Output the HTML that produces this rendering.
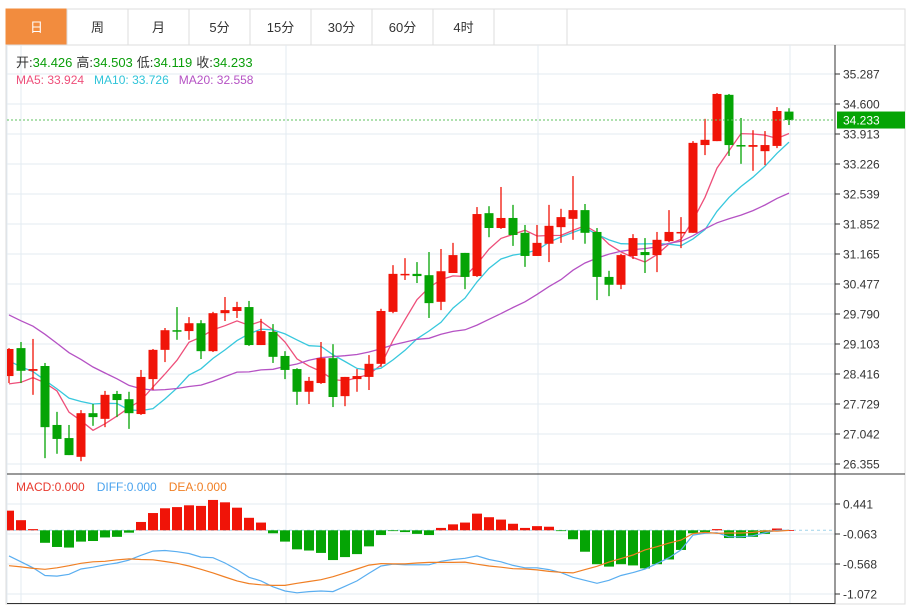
<!DOCTYPE html>
<html><head><meta charset="utf-8"><style>
body{margin:0;background:#fff;width:912px;height:605px;overflow:hidden;font-family:"Liberation Sans","Noto Sans CJK SC",sans-serif}
svg{display:block}
</style></head><body>
<svg id="chart" width="912" height="605" viewBox="0 0 912 605" xmlns="http://www.w3.org/2000/svg" font-family="Liberation Sans, Noto Sans CJK SC, sans-serif">
<defs><clipPath id="plotclip"><rect x="7" y="45" width="828" height="559"/></clipPath></defs>
<g id="tabs"></g>
<g id="grid"></g>
<g clip-path="url(#plotclip)">
<g id="ma"></g>
<g id="candles"></g>
<g id="macd"></g>
</g>
<g id="axes"></g>
<g font-size="13">
<text x="16" y="67" fill="#333">开:<tspan fill="#0a9e0a">34.426</tspan><tspan dx="4">高:</tspan><tspan fill="#0a9e0a">34.503</tspan><tspan dx="4">低:</tspan><tspan fill="#0a9e0a">34.119</tspan><tspan dx="4">收:</tspan><tspan fill="#0a9e0a">34.233</tspan></text>
<text x="16" y="84" font-size="12"><tspan fill="#ee4f7a">MA5: 33.924</tspan><tspan fill="#2fc4d9" dx="10">MA10: 33.726</tspan><tspan fill="#b552c4" dx="10">MA20: 32.558</tspan></text>
<text x="16" y="491" font-size="12"><tspan fill="#e83a2e">MACD:0.000</tspan><tspan fill="#4aa3ee" dx="12">DIFF:0.000</tspan><tspan fill="#f07f24" dx="12">DEA:0.000</tspan></text>
</g>
</svg>
<script>
const opens=[28.37,29.01,28.49,28.60,27.25,26.95,26.52,27.52,27.39,27.96,27.84,27.50,28.30,28.97,29.42,29.40,29.58,28.94,29.81,29.86,29.95,29.08,29.38,28.83,28.53,28.01,28.21,28.78,27.91,28.30,28.35,28.65,29.84,30.68,30.71,30.68,30.07,30.73,31.19,30.66,32.10,31.76,31.99,31.65,31.12,31.40,31.78,31.97,32.17,31.67,30.64,30.46,31.12,31.21,31.14,31.46,31.65,31.65,33.66,33.75,34.81,33.66,33.62,33.52,33.64,34.426];
const highs=[29.01,29.15,29.22,28.67,27.55,27.25,27.59,27.73,28.03,28.03,28.01,28.51,28.99,29.47,29.95,29.72,29.65,29.84,30.18,30.07,30.09,29.68,29.56,28.94,28.55,28.35,29.15,29.10,28.35,28.53,28.85,29.91,30.91,31.07,30.98,31.21,31.28,31.42,31.19,32.24,32.26,32.70,32.29,31.83,31.83,32.29,32.20,32.95,32.31,31.76,30.78,31.17,31.62,31.53,31.67,32.17,32.01,33.75,34.26,34.85,34.83,34.28,34.00,33.98,34.53,34.503];
const lows=[28.21,28.21,27.94,26.49,26.59,26.56,26.42,27.23,27.20,27.43,27.16,27.48,28.05,28.69,29.20,29.20,28.76,28.92,29.63,29.70,29.06,29.08,28.67,28.30,27.71,27.73,28.19,27.66,27.68,28.01,28.05,28.58,29.81,30.57,30.50,29.70,29.88,30.73,30.36,30.64,31.55,31.74,31.35,30.87,31.12,30.98,31.42,31.49,31.40,30.11,30.20,30.36,31.05,30.73,30.75,31.44,31.30,31.65,33.43,33.75,33.41,33.23,33.07,33.20,33.59,34.119];
const closes=[28.99,28.49,28.53,27.20,26.93,26.56,27.52,27.43,27.94,27.82,27.52,28.35,28.97,29.42,29.40,29.58,28.94,29.81,29.88,29.95,29.08,29.40,28.81,28.51,28.01,28.26,28.78,27.89,28.35,28.37,28.65,29.86,30.71,30.71,30.66,30.04,30.77,31.14,30.64,32.08,31.76,31.99,31.60,31.12,31.42,31.81,32.01,32.17,31.65,30.64,30.46,31.14,31.53,31.14,31.49,31.67,31.67,33.71,33.78,34.83,33.66,33.63,33.66,33.66,34.44,34.233];
const priorCloses=[31.2,31.0,30.9,31.1,30.8,30.6,30.9,30.7,30.5,30.5,29.9,29.6,29.2,28.9,28.65,28.3,28.0,27.8,27.86];
const macdHist=[0.33,0.17,0.02,-0.21,-0.28,-0.29,-0.19,-0.18,-0.12,-0.11,-0.04,0.14,0.29,0.37,0.39,0.42,0.41,0.51,0.47,0.38,0.21,0.13,-0.05,-0.19,-0.32,-0.34,-0.38,-0.50,-0.45,-0.40,-0.27,-0.08,-0.01,-0.03,-0.06,-0.08,0.04,0.10,0.13,0.28,0.22,0.18,0.11,0.04,0.07,0.06,-0.01,-0.15,-0.36,-0.57,-0.61,-0.57,-0.59,-0.64,-0.57,-0.49,-0.33,-0.05,-0.03,0.02,-0.13,-0.13,-0.11,-0.06,0.03,0.005];
const diffVals=[-0.43,-0.53,-0.63,-0.76,-0.77,-0.74,-0.65,-0.62,-0.58,-0.55,-0.50,-0.42,-0.35,-0.34,-0.36,-0.39,-0.45,-0.46,-0.55,-0.66,-0.79,-0.85,-0.95,-1.02,-1.05,-1.03,-1.02,-1.03,-0.94,-0.85,-0.72,-0.60,-0.57,-0.58,-0.58,-0.58,-0.52,-0.49,-0.47,-0.43,-0.49,-0.53,-0.59,-0.63,-0.63,-0.66,-0.71,-0.79,-0.84,-0.89,-0.84,-0.76,-0.71,-0.65,-0.56,-0.46,-0.33,-0.08,-0.05,-0.04,-0.11,-0.11,-0.09,-0.04,0.00,0.00];
const priceTicks=["35.287","34.600","33.913","33.226","32.539","31.852","31.165","30.477","29.790","29.103","28.416","27.729","27.042","26.355"];
const macdTicks=["0.441","-0.063","-0.568","-1.072"];
const tabLabels=["日","周","月","5分","15分","30分","60分","4时",""];

const NS="http://www.w3.org/2000/svg";
function mk(tag,attrs,parent){const e=document.createElementNS(NS,tag);for(const k in attrs)e.setAttribute(k,attrs[k]);parent.appendChild(e);return e;}
const xOf=i=>9+12*i;
const yP=v=>74+(35.287-v)/0.0229;
const yM=v=>530.3-v/0.0168;
const UP="#f01408",DN="#05a405";

const tabs=document.getElementById('tabs');
const tabX=[6,67,128,189,250,311,372,433,494,567];
mk('rect',{x:6,y:9,width:899,height:36,fill:'#fff',stroke:'#ddd'},tabs);
for(let i=0;i<tabLabels.length;i++){
  const g=mk('g',{},tabs);
  
  
  const w=tabX[i+1]-tabX[i];
  mk('rect',{x:tabX[i],y:9,width:w,height:36,fill:i===0?'#f28c3e':'#fff',stroke:i===0?'#f28c3e':'#ddd'},g);
  const t=mk('text',{x:tabX[i]+w/2,y:32,'text-anchor':'middle','font-size':13,fill:i===0?'#fff':'#333'},g);
  t.textContent=tabLabels[i];
}

const grid=document.getElementById('grid');
mk('rect',{x:6,y:45,width:899,height:559,fill:'none',stroke:'#ddd'},grid);
priceTicks.forEach((t,k)=>{const y=74+30*k;mk('line',{x1:7,x2:835,y1:y,y2:y,stroke:'#e3ebf2'},grid);});
macdTicks.forEach((t,k)=>{const y=504+30*k;mk('line',{x1:7,x2:835,y1:y,y2:y,stroke:'#e3ebf2'},grid);});
[21,286,538,790].forEach(x=>{mk('line',{x1:x,x2:x,y1:45,y2:603,stroke:'#e3ebf2'},grid);});
mk('line',{x1:7,x2:7,y1:45,y2:603,stroke:'#e3ebf2'},grid);

const all=priorCloses.concat(closes);
function ma(n){const out=[];for(let i=0;i<closes.length;i++){const j=i+priorCloses.length;let s=0;for(let k=j-n+1;k<=j;k++)s+=all[k];out.push(s/n);}return out;}
const maG=document.getElementById('ma');
[[5,'#ee4f7a'],[10,'#38c8dd'],[20,'#b552c4']].forEach(([n,c])=>{
  const v=ma(n);
  const pts=v.map((m,i)=>xOf(i)+','+yP(m).toFixed(1));
  const p=mk('polyline',{points:pts.join(' '),fill:'none',stroke:c,'stroke-width':1.3},maG);
  
  
});

const cg=document.getElementById('candles');
for(let i=0;i<closes.length;i++){
  const up=closes[i]>=opens[i];const c=up?UP:DN;const x=xOf(i);
  const g=mk('g',{},cg);
  
  
  mk('line',{x1:x,x2:x,y1:yP(highs[i]),y2:yP(lows[i]),stroke:c,'stroke-width':1.3},g);
  const t=yP(Math.max(opens[i],closes[i])),b=yP(Math.min(opens[i],closes[i]));
  mk('rect',{x:x-4.5,y:t,width:9,height:Math.max(1.5,b-t),fill:c},g);
}
const last=closes[closes.length-1];
const cpy=yP(last);
const cl=mk('line',{x1:7,x2:835,y1:cpy,y2:cpy,stroke:'#5fc25f','stroke-dasharray':'2,2'},cg);



const mg=document.getElementById('macd');
const z=yM(0);
const zl=mk('line',{x1:7,x2:835,y1:z,y2:z,stroke:'#9fd3ea','stroke-dasharray':'3,3'},mg);


macdHist.forEach((v,i)=>{
  const y=yM(v);
  const b=mk('rect',{x:xOf(i)-5,y:Math.min(y,z),width:10,height:Math.max(0.8,Math.abs(y-z)),fill:v>=0?UP:DN},mg);
  
  
});
const dea=diffVals.map((d,i)=>d-macdHist[i]/2);
const dl=mk('polyline',{points:diffVals.map((v,i)=>xOf(i)+','+yM(v).toFixed(1)).join(' '),fill:'none',stroke:'#5aaef0','stroke-width':1.2},mg);


const el2=mk('polyline',{points:dea.map((v,i)=>xOf(i)+','+yM(v).toFixed(1)).join(' '),fill:'none',stroke:'#f07f24','stroke-width':1.2},mg);



const ax=document.getElementById('axes');
mk('line',{x1:835,x2:835,y1:45,y2:604,stroke:'#333'},ax);
mk('line',{x1:7,x2:905,y1:474,y2:474,stroke:'#333'},ax);
mk('line',{x1:7,x2:835,y1:603.5,y2:603.5,stroke:'#333'},ax);
priceTicks.forEach((t,k)=>{const y=74+30*k;mk('line',{x1:835,x2:840,y1:y,y2:y,stroke:'#333'},ax);
  const tx=mk('text',{x:843,y:y+4.5,'font-size':12,fill:'#333'},ax);tx.textContent=t;
  
  });
macdTicks.forEach((t,k)=>{const y=504+30*k;mk('line',{x1:835,x2:840,y1:y,y2:y,stroke:'#333'},ax);
  const tx=mk('text',{x:843,y:y+4.5,'font-size':12,fill:'#333'},ax);tx.textContent=t;
  
  });
const lb=mk('rect',{x:837,y:cpy-8.5,width:68,height:17,fill:'#05a405'},ax);


const lt=mk('text',{x:843,y:cpy+4.5,'font-size':12,fill:'#fff'},ax);lt.textContent=last.toFixed(3);
</script>
</body></html>
